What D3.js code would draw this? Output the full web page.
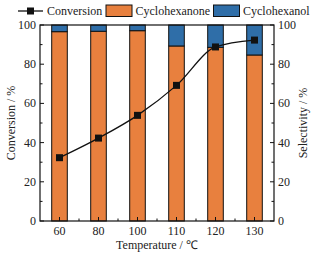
<!DOCTYPE html>
<html><head><meta charset="utf-8">
<script src="https://cdn.jsdelivr.net/npm/d3@7"></script>
<style>body{margin:0;background:#fff}svg{display:block}text{font-family:"Liberation Serif","Times New Roman",serif;fill:#222}</style>
</head><body>
<script>
const categories = ["60","80","100","110","120","130"];
const conversion = [32.3, 42.3, 53.9, 69.2, 88.8, 92.3];
const cyclohexanone = [96.6, 96.8, 97.1, 89.3, 88.6, 84.7];
const cyclohexanol = [3.4, 3.2, 2.9, 10.7, 11.4, 15.3];
const yTicks = [0,20,40,60,80,100];
const seriesNames = ["Conversion","Cyclohexanone","Cyclohexanol"];
const colors = {ketone:"#E8803E", alcohol:"#2F6EA8"};

const W=318,H=256, L=40, R=274, T=25, B=221;
const svg=d3.select("body").append("svg").attr("width",W).attr("height",H);
const x=d3.scaleBand().domain(categories).range([L,R]).paddingInner(0.6).paddingOuter(0.3);
const y=d3.scaleLinear().domain([0,100]).range([B,T]);

// bars
const g=svg.append("g");
categories.forEach((c,i)=>{
  g.append("rect").attr("x",x(c)).attr("width",x.bandwidth())
   .attr("y",y(cyclohexanone[i])).attr("height",y(0)-y(cyclohexanone[i]))
   .attr("fill",colors.ketone).attr("stroke","#111").attr("stroke-width",1);
  g.append("rect").attr("x",x(c)).attr("width",x.bandwidth())
   .attr("y",y(cyclohexanone[i]+cyclohexanol[i])).attr("height",y(cyclohexanone[i])-y(cyclohexanone[i]+cyclohexanol[i]))
   .attr("fill",colors.alcohol).attr("stroke","#111").attr("stroke-width",1);
});

// frame
svg.append("rect").attr("x",L).attr("y",T).attr("width",R-L).attr("height",B-T).attr("fill","none").attr("stroke","#111").attr("stroke-width",1.2);

// axes ticks
const yMinor=d3.range(10,100,20);
const left=svg.append("g");
yTicks.forEach(v=>{
  left.append("line").attr("x1",L).attr("x2",L+4).attr("y1",y(v)).attr("y2",y(v)).attr("stroke","#111");
  left.append("line").attr("x1",R).attr("x2",R-4).attr("y1",y(v)).attr("y2",y(v)).attr("stroke","#111");
  left.append("text").attr("x",L-4).attr("y",y(v)+4).attr("text-anchor","end").attr("font-size",12).text(v);
  left.append("text").attr("x",R+4).attr("y",y(v)+4).attr("text-anchor","start").attr("font-size",12).text(v);
});
yMinor.forEach(v=>{
  left.append("line").attr("x1",L).attr("x2",L+2.5).attr("y1",y(v)).attr("y2",y(v)).attr("stroke","#111");
  left.append("line").attr("x1",R).attr("x2",R-2.5).attr("y1",y(v)).attr("y2",y(v)).attr("stroke","#111");
});
categories.forEach((c,i)=>{
  const cx=x(c)+x.bandwidth()/2;
  left.append("line").attr("x1",cx).attr("x2",cx).attr("y1",B).attr("y2",B-4).attr("stroke","#111");
  if(i<categories.length-1){
    const mx=cx+x.step()/2;
    left.append("line").attr("x1",mx).attr("x2",mx).attr("y1",B).attr("y2",B-2.5).attr("stroke","#111");
  }
  left.append("text").attr("x",cx).attr("y",B+14).attr("text-anchor","middle").attr("font-size",12).text(c);
});

// axis titles
svg.append("text").attr("transform",`translate(15,${(T+B)/2}) rotate(-90)`).attr("text-anchor","middle").attr("font-size",12).text("Conversion / %");
svg.append("text").attr("transform",`translate(307,${(T+B)/2}) rotate(-90)`).attr("text-anchor","middle").attr("font-size",12).text("Selectivity / %");
svg.append("text").attr("x",(L+R)/2).attr("y",249).attr("text-anchor","middle").attr("font-size",12).text("Temperature / ℃");

// conversion line
const pts=categories.map((c,i)=>[x(c)+x.bandwidth()/2,y(conversion[i])]);
svg.append("path").attr("d",d3.line().curve(d3.curveMonotoneX)(pts)).attr("fill","none").attr("stroke","#111").attr("stroke-width",1.3);
svg.selectAll(".pt").data(pts).enter().append("rect").attr("x",d=>d[0]-3.5).attr("y",d=>d[1]-3.5).attr("width",7).attr("height",7).attr("fill","#111");

// legend
const lg=svg.append("g");
lg.append("line").attr("x1",18).attr("x2",43).attr("y1",11).attr("y2",11).attr("stroke","#111").attr("stroke-width",1.3);
lg.append("rect").attr("x",27).attr("y",7.5).attr("width",7).attr("height",7).attr("fill","#111");
lg.append("text").attr("x",47).attr("y",15).attr("font-size",12).text(seriesNames[0]);
lg.append("rect").attr("x",106).attr("y",5).attr("width",26).attr("height",11.5).attr("fill",colors.ketone).attr("stroke","#111");
lg.append("text").attr("x",135.5).attr("y",15).attr("font-size",12).text(seriesNames[1]);
lg.append("rect").attr("x",213.5).attr("y",5).attr("width",26).attr("height",11.5).attr("fill",colors.alcohol).attr("stroke","#111");
lg.append("text").attr("x",243).attr("y",15).attr("font-size",12).text(seriesNames[2]);
</script>
</body></html>
